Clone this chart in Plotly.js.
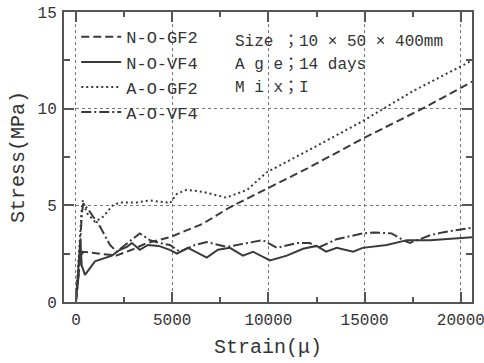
<!DOCTYPE html>
<html>
<head>
<meta charset="utf-8">
<script src="https://cdn.plot.ly/plotly-3.0.1.min.js"></script>
<style>html,body{margin:0;padding:0;background:#fff;}</style>
</head>
<body>
<div id="chart" style="width:484px;height:363px;"></div>
<script>
// Series names
const seriesNames = ["N-O-GF2", "N-O-VF4", "A-O-GF2", "A-O-VF4"];

// N-O-GF2 (dashed)
const nGF2Strain = [0, 200, 360, 1200, 2100, 2900, 3690, 4880, 6600, 8000, 10000, 12000, 15000, 18000, 20600];
const nGF2Stress = [0, 2.0, 2.6, 2.5, 2.4, 2.7, 3.05, 3.35, 4.05, 4.9, 5.9, 6.9, 8.5, 10.0, 11.4];

// N-O-VF4 (solid)
const nVF4Strain = [0, 120, 230, 300, 470, 990, 1400, 1870, 2290, 2650, 2910, 3320, 3740, 4300, 4880, 5250, 5820, 6800, 7380, 8000, 8680, 9200, 10080, 10960, 11800, 12500, 13000, 13550, 14400, 14900, 16150, 17200, 18400, 19950, 20600];
const nVF4Stress = [0, 2.0, 3.2, 1.9, 1.4, 2.1, 2.25, 2.4, 2.7, 2.85, 3.05, 2.7, 2.95, 2.9, 2.7, 2.5, 2.8, 2.3, 2.7, 2.8, 2.4, 2.6, 2.15, 2.4, 2.75, 2.9, 2.6, 2.8, 2.6, 2.8, 2.95, 3.2, 3.2, 3.3, 3.35];

// A-O-GF2 (dotted)
const aGF2Strain = [0, 150, 300, 360, 570, 990, 1400, 1920, 2290, 3170, 3840, 4720, 4880, 5250, 5750, 6600, 7640, 7800, 8900, 9900, 12000, 14800, 17500, 20600];
const aGF2Stress = [0, 2.5, 4.8, 5.25, 4.6, 4.15, 4.4, 5.0, 5.15, 5.15, 5.25, 5.15, 5.1, 5.6, 5.8, 5.7, 5.45, 5.4, 5.8, 6.7, 7.8, 9.3, 10.9, 12.5];

// A-O-VF4 (dash-dot)
const aVF4Strain = [0, 150, 300, 380, 700, 1250, 1770, 2120, 2550, 3320, 3840, 4360, 4880, 5400, 6180, 6800, 7840, 9040, 9710, 10440, 11480, 12150, 12570, 13550, 14900, 15500, 16400, 17000, 17350, 18400, 19050, 20300, 20600];
const aVF4Stress = [0, 1.5, 4.5, 5.1, 4.7, 3.9, 2.95, 2.6, 2.95, 3.55, 3.2, 3.05, 2.95, 2.6, 2.95, 3.1, 2.85, 3.05, 3.2, 2.8, 3.05, 3.05, 2.8, 3.25, 3.55, 3.6, 3.55, 3.2, 3.05, 3.45, 3.6, 3.8, 3.85];

// Info text
const infoLines = ["Size ；10 × 50 × 400mm", "A g e；14 days", "M i x；I"];

const lineColor = "#3a3a3a";
const frameColor = "#555555";
const fontFam = "Liberation Mono, Noto Sans CJK JP, monospace";

const traces = [
  {x: nGF2Strain, y: nGF2Stress, name: seriesNames[0], mode: "lines",
   line: {color: lineColor, width: 2, dash: "8px,4px"}},
  {x: nVF4Strain, y: nVF4Stress, name: seriesNames[1], mode: "lines",
   line: {color: lineColor, width: 2}},
  {x: aGF2Strain, y: aGF2Stress, name: seriesNames[2], mode: "lines",
   line: {color: lineColor, width: 2, dash: "2px,3px"}},
  {x: aVF4Strain, y: aVF4Stress, name: seriesNames[3], mode: "lines",
   line: {color: lineColor, width: 2, dash: "10px,3px,2px,3px"}}
];

const infoY = [0.897, 0.817, 0.738];
const annotations = infoLines.map((t, i) => ({
  text: t, xref: "paper", yref: "paper", x: 0.414, y: infoY[i],
  xanchor: "left", yanchor: "middle", showarrow: false,
  font: {family: fontFam, size: 16, color: "#333"}
}));

const axisCommon = {
  showline: true, linewidth: 2, linecolor: frameColor, mirror: "ticks",
  ticks: "inside", ticklen: 10, tickwidth: 2, tickcolor: frameColor,
  showgrid: true, gridcolor: "#777", gridwidth: 1, griddash: "dot",
  zeroline: false, tickformat: "d", ticklabeloverflow: "allow",
  tickfont: {family: fontFam, size: 16, color: "#333"}
};

const layout = {
  width: 484, height: 363,
  margin: {l: 64, r: 12, t: 12, b: 61},
  paper_bgcolor: "#fff", plot_bgcolor: "#fff",
  showlegend: true,
  legend: {x: 0.03, y: 0.975, xanchor: "left", yanchor: "top",
           bgcolor: "rgba(0,0,0,0)", borderwidth: 0, tracegroupgap: 0,
           itemwidth: 40,
           font: {family: fontFam, size: 17, color: "#333"}},
  xaxis: Object.assign({}, axisCommon, {
    range: [-620, 20580], tick0: 0, dtick: 5000, ticklabelstandoff: 2,
    minor: {tick0: 0, dtick: 2500, ticks: "inside", ticklen: 5, tickwidth: 2, tickcolor: frameColor, showgrid: false},
    title: {text: "Strain(μ)", standoff: 10, font: {family: fontFam, size: 20, color: "#333"}}
  }),
  yaxis: Object.assign({}, axisCommon, {
    range: [0, 15], tick0: 0, dtick: 5, ticklabelstandoff: 2,
    minor: {tick0: 0, dtick: 2.5, ticks: "inside", ticklen: 6, tickwidth: 2, tickcolor: frameColor, showgrid: false},
    title: {text: "Stress(MPa)", standoff: 8, font: {family: fontFam, size: 20, color: "#333"}}
  }),
  annotations: annotations
};

Plotly.newPlot("chart", traces, layout, {displayModeBar: false, staticPlot: true});
</script>
</body>
</html>
